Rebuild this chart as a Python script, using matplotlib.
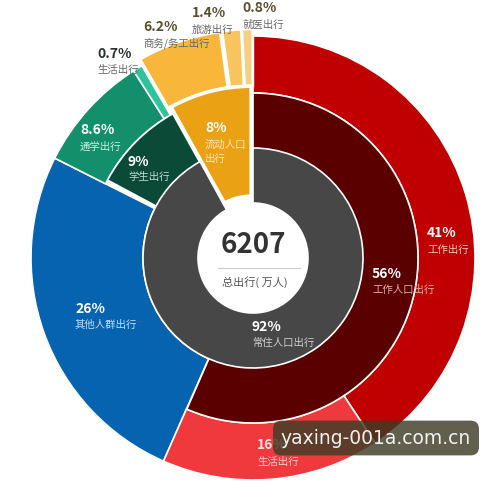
import matplotlib
matplotlib.use("Agg")
import matplotlib.pyplot as plt

plt.rcParams['font.family'] = ['Noto Sans CJK SC', 'DejaVu Sans']

# ---- data ----
outer_labels = ['工作出行', '生活出行', '其他人群出行', '通学出行', '生活出行', '商务/务工出行', '旅游出行', '就医出行']
outer_values = [41, 16, 26, 8.6, 0.7, 6.2, 1.4, 0.8]
middle_labels = ['工作人口出行', '其他人群出行', '学生出行', '流动人口出行']
middle_values = [56, 26, 9, 8]
inner_labels = ['常住人口出行', '流动人口出行']
inner_values = [92, 8]
total_value = 6207
total_label = '总出行( 万人)'

# ---- style ----
W, H = 500, 483
CX, CY = 253, H - 258
R_OUT, R_MID, R_IN, R_HOLE = 222, 165, 110, 55

outer_colors = ['#c00000', '#f0393c', '#0563b0', '#13906b', '#2fc39c', '#f8b73a', '#f8c45e', '#f6cf82']
middle_colors = ['#5a0000', '#0563b0', '#0b4a37', '#eba114']
inner_colors = ['#474747', '#eba114']

fig = plt.figure(figsize=(W / 100, H / 100), dpi=100)
ax = fig.add_axes([0, 0, 1, 1])


def ring(values, colors, radius, width, visible, explode=None, lw_list=None):
    wedges, _ = ax.pie(values, colors=colors, radius=radius, center=(CX, CY),
                       startangle=90, counterclock=False, explode=explode,
                       normalize=True,
                       wedgeprops=dict(width=width, edgecolor='white', linewidth=1.2))
    for i, w in enumerate(wedges):
        w.set_visible(visible[i])
        if lw_list is not None:
            w.set_linewidth(lw_list[i])
    return wedges


exp_out = [0, 0, 0, 0, 0, 7, 7, 7]
lw_out = [1.2, 1.2, 1.2, 1.2, 1.2, 2.4, 2.0, 2.0]
# blue spans middle + outer ring
ring(outer_values, outer_colors, R_OUT, R_OUT - R_IN,
     [False, False, True, False, False, False, False, False], explode=exp_out)
# outer ring
ring(outer_values, outer_colors, R_OUT, R_OUT - R_MID,
     [True, True, False, True, True, True, True, True], explode=exp_out, lw_list=lw_out)
# middle ring (flow-population wedge spans middle + inner)
ring(middle_values, middle_colors, R_MID, R_MID - R_HOLE,
     [True, False, True, True], explode=[0, 0, 0, 7], lw_list=[1.2, 1.2, 1.2, 2.6])
# inner ring
ring(inner_values, inner_colors, R_IN, R_IN - R_HOLE, [True, False])

ax.set_xlim(0, W)
ax.set_ylim(0, H)
ax.set_aspect('equal')
ax.axis('off')

# ---- labels ----
def lab(x, y_pct, y_name, pct, name, pc='white', nc='#f0f0f0', ps=10, ns=7.5):
    ax.text(x, H - y_pct, pct, ha='left', va='center', fontsize=ps,
            fontweight='bold', color=pc)
    ax.text(x, H - y_name, name, ha='left', va='center', fontsize=ns, color=nc)

lab(427, 233, 250, f'{outer_values[0]:g}%', outer_labels[0], nc='#f6c4c4')
lab(372, 274, 290, f'{middle_values[0]:g}%', middle_labels[0], nc='#dcb0b0')
lab(252, 327, 343, f'{inner_values[0]:g}%', inner_labels[0], nc='#cfcfcf')
lab(75, 309, 325, f'{outer_values[2]:g}%', outer_labels[2], nc='#c7dcf0')
lab(128, 162, 177, f'{middle_values[2]:g}%', middle_labels[2], nc='#c2dad0')
lab(80, 130, 147, f'{outer_values[3]:g}%', outer_labels[3], nc='#d2ece2')
lab(205, 128, 145, f'{middle_values[3]:g}%', '流动人口', nc='#fbe6bd')
ax.text(205, H - 159, '出行', ha='left', va='center', fontsize=7.5, color='#fbe6bd')
lab(257, 445, 462, f'{outer_values[1]:g}%', outer_labels[1], pc='#fde0e0', nc='#fcd0d0')

lab(97, 54, 70, f'{outer_values[4]:g}%', outer_labels[4], pc='#24332f', nc='#666666')
lab(143, 27, 43, f'{outer_values[5]:g}%', outer_labels[5], pc='#5b4e2b', nc='#666666')
lab(192, 13, 30, f'{outer_values[6]:g}%', outer_labels[6], pc='#5b4e2b', nc='#666666')
lab(242, 8, 25, f'{outer_values[7]:g}%', outer_labels[7], pc='#5b4e2b', nc='#666666')

# ---- center ----
ax.text(CX, H - 245, f'{total_value}', ha='center', va='center', fontsize=20,
        fontweight='bold', color='#333333')
ax.plot([218, 300], [H - 268, H - 268], color='#cccccc', lw=0.8)
ax.text(CX + 2, H - 282, total_label, ha='center', va='center', fontsize=8, color='#555555')

# ---- watermark ----
ax.text(376, H - 438, 'yaxing-001a.com.cn', ha='center', va='center', fontsize=13.5,
        family='DejaVu Sans', color='#f2f2f2',
        bbox=dict(boxstyle='round,pad=0.42,rounding_size=0.45', facecolor='#3d3d26',
                  alpha=0.82, edgecolor='none'))

fig.savefig('out.png', dpi=100)
